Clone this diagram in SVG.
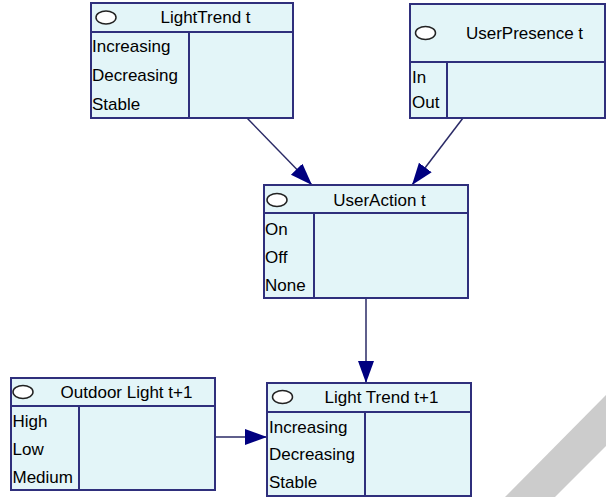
<svg xmlns="http://www.w3.org/2000/svg" width="606" height="497" viewBox="0 0 606 497">
  <style>
    .box { fill: #e3f5f8; stroke: #2f2f7c; stroke-width: 2; }
    .div { stroke: #2f2f7c; stroke-width: 2; fill: none; }
    .oval { fill: #ffffff; stroke: #222222; stroke-width: 1.5; }
    .t { font-family: "Liberation Sans", Arial, sans-serif; font-size: 17px; fill: #000000; }
    .title { text-anchor: middle; }
    .edge { stroke: #2a2a66; stroke-width: 1.5; fill: none; marker-end: url(#head); }
  </style>
  <defs>
    <marker id="head" markerUnits="userSpaceOnUse" markerWidth="24" markerHeight="18" refX="22" refY="8" orient="auto">
      <path d="M0,0 L22,8 L0,16 z" fill="#000080"/>
    </marker>
  </defs>

  <rect width="606" height="497" fill="#ffffff"/>
  <!-- grey diagonal band, lower right -->
  <polygon points="505,497 555,497 606,446 606,395" fill="#cccccc"/>

  <g id="connectors">
    <line class="edge" x1="247" y1="118" x2="312" y2="185"/>
    <line class="edge" x1="463" y1="118" x2="412" y2="185"/>
    <line class="edge" x1="366" y1="298" x2="366" y2="383"/>
    <line class="edge" x1="215" y1="437" x2="267" y2="437"/>
  </g>

  <g id="lighttrend_t">
    <rect class="box" x="91" y="3" width="202" height="115"/>
    <line class="div" x1="91" y1="32" x2="293" y2="32"/>
    <line class="div" x1="189" y1="32" x2="189" y2="118"/>
    <ellipse class="oval" cx="106" cy="17.5" rx="10" ry="6.5"/>
    <text class="t title" x="205.5" y="23">LightTrend t</text>
    <text class="t" x="92" y="52">Increasing</text>
    <text class="t" x="92" y="81">Decreasing</text>
    <text class="t" x="92" y="110">Stable</text>
  </g>

  <g id="userpresence_t">
    <rect class="box" x="410" y="4" width="195" height="114"/>
    <line class="div" x1="410" y1="62" x2="605" y2="62"/>
    <line class="div" x1="447" y1="62" x2="447" y2="118"/>
    <ellipse class="oval" cx="425.5" cy="33" rx="10" ry="6.5"/>
    <text class="t title" x="524.5" y="39">UserPresence t</text>
    <text class="t" x="412" y="83">In</text>
    <text class="t" x="412" y="108">Out</text>
  </g>

  <g id="useraction_t">
    <rect class="box" x="264" y="185" width="204" height="113"/>
    <line class="div" x1="264" y1="213" x2="468" y2="213"/>
    <line class="div" x1="314" y1="213" x2="314" y2="298"/>
    <ellipse class="oval" cx="277" cy="200" rx="10" ry="6.5"/>
    <text class="t title" x="379.5" y="206">UserAction t</text>
    <text class="t" x="265" y="235">On</text>
    <text class="t" x="265" y="263">Off</text>
    <text class="t" x="265" y="291">None</text>
  </g>

  <g id="outdoorlight_t1">
    <rect class="box" x="11" y="378" width="204" height="112"/>
    <line class="div" x1="11" y1="406" x2="215" y2="406"/>
    <line class="div" x1="79" y1="406" x2="79" y2="490"/>
    <ellipse class="oval" cx="23" cy="392" rx="10" ry="6.5"/>
    <text class="t title" x="126.5" y="398">Outdoor Light t+1</text>
    <text class="t" x="12.5" y="427">High</text>
    <text class="t" x="12.5" y="455">Low</text>
    <text class="t" x="12.5" y="483">Medium</text>
  </g>

  <g id="lighttrend_t1">
    <rect class="box" x="267" y="383" width="204" height="113"/>
    <line class="div" x1="267" y1="412" x2="471" y2="412"/>
    <line class="div" x1="365" y1="412" x2="365" y2="496"/>
    <ellipse class="oval" cx="282.5" cy="397" rx="10" ry="6.5"/>
    <text class="t title" x="381.5" y="403">Light Trend t+1</text>
    <text class="t" x="269" y="433">Increasing</text>
    <text class="t" x="269" y="460">Decreasing</text>
    <text class="t" x="269" y="488">Stable</text>
  </g>
</svg>
